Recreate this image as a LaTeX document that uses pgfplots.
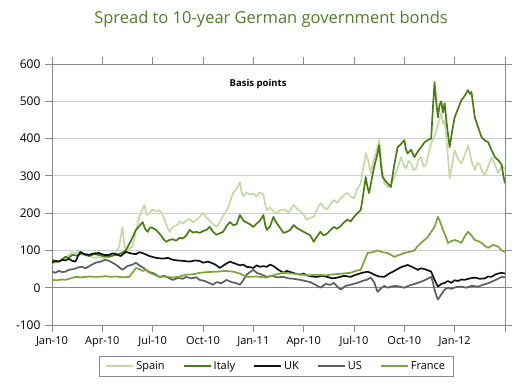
\documentclass[border=0pt]{standalone}
\usepackage{pgfplots}
\pgfplotsset{compat=1.18}
\usepackage{fontspec}
\setmainfont{Open Sans}
\definecolor{spainc}{HTML}{C6D8A6}
\definecolor{italyc}{HTML}{4A7D12}
\definecolor{ukc}{HTML}{111111}
\definecolor{usc}{HTML}{5E5E5E}
\definecolor{francec}{HTML}{7BA53A}
\definecolor{titlec}{HTML}{4F7F22}
\definecolor{gridc}{HTML}{CFCFCF}
\definecolor{framec}{HTML}{8A8A8A}
\begin{document}
\begin{tikzpicture}[x=1pt,y=1pt]
\begin{axis}[
  at={(52pt,60pt)}, anchor=south west,
  scale only axis, width=453pt, height=261pt,
  xmin=0, xmax=27, ymin=-100, ymax=600,
  xtick={0,3,...,27},
  xticklabels={Jan-10,Apr-10,Jul-10,Oct-10,Jan-11,Apr-10,Jul-10,Oct-10,Jan-12,},
  ytick={-100,0,...,600},
  tick align=outside, major tick length=7pt,
  tick style={framec, line width=0.8pt},
  axis line style={framec, line width=0.8pt},
  ymajorgrids, grid style={gridc, line width=0.9pt},
  extra y ticks={0}, extra y tick labels={},
  extra y tick style={grid style={framec, line width=1pt}, major tick length=0pt},
  x tick label style={font=\fontsize{11}{13}\selectfont, yshift=-1pt},
  y tick label style={font=\fontsize{12}{14}\selectfont, xshift=-1pt},
  /pgf/number format/assume math mode=true,
  clip=true,
  legend columns=5,
  legend style={at={(0.495,-0.158)}, anchor=center, draw=framec, line width=0.8pt,
    font=\fontsize{11}{13}\selectfont, inner xsep=6pt, inner ysep=3pt,
    /tikz/every even column/.append style={column sep=16pt}},
  legend image code/.code={\draw[#1, line width=2pt] (0pt,0pt) -- (27pt,0pt);},
  every axis plot/.append style={line width=1.7pt, line join=round},
]
\addplot[spainc] coordinates {
(0,62)(0.2,66)(0.4,70)(0.6,75)(0.8,80)(1.0,88)(1.2,95)(1.4,92)(1.6,100)(1.8,90)(1.9,88)(2.1,92)(2.2,85)(2.5,80)(2.8,82)(3.1,78)(3.4,88)(3.6,84)(3.8,95)(4.0,110)(4.2,163)(4.3,120)(4.4,95)(4.6,105)(4.8,110)(5.0,150)(5.2,190)(5.35,205)(5.5,222)(5.65,195)(5.8,200)(6.0,210)(6.2,205)(6.4,208)(6.6,195)(6.8,170)(7.0,150)(7.15,160)(7.3,165)(7.5,170)(7.6,178)(7.8,172)(8.0,180)(8.2,185)(8.4,175)(8.6,182)(8.8,190)(9.0,200)(9.2,188)(9.4,180)(9.6,170)(9.8,163)(10.0,175)(10.1,185)(10.3,200)(10.5,215)(10.6,230)(10.8,255)(11.0,265)(11.2,283)(11.3,255)(11.4,245)(11.6,255)(11.8,250)(12.0,252)(12.2,245)(12.4,255)(12.6,250)(12.7,225)(12.8,208)(13.0,215)(13.2,205)(13.4,200)(13.6,208)(13.9,210)(14.1,200)(14.4,222)(14.6,212)(14.8,205)(15.0,195)(15.2,182)(15.4,188)(15.6,190)(15.8,210)(16.0,227)(16.2,215)(16.4,210)(16.6,225)(16.8,235)(17.0,228)(17.2,240)(17.4,248)(17.6,254)(17.8,245)(18.0,240)(18.2,265)(18.4,280)(18.5,310)(18.6,330)(18.7,361)(18.85,340)(19.0,307)(19.15,340)(19.3,360)(19.5,396)(19.65,330)(19.8,280)(20.0,270)(20.2,278)(20.4,297)(20.6,320)(20.8,350)(20.95,330)(21.1,320)(21.25,340)(21.4,334)(21.55,315)(21.7,320)(21.85,345)(22.0,350)(22.15,325)(22.3,330)(22.45,360)(22.6,388)(22.75,400)(22.9,420)(23.05,445)(23.2,468)(23.3,440)(23.4,449)(23.55,380)(23.7,294)(23.85,330)(24.0,369)(24.2,345)(24.4,334)(24.6,355)(24.8,382)(25.0,340)(25.2,315)(25.35,335)(25.5,330)(25.65,310)(25.8,302)(26.0,325)(26.2,350)(26.4,330)(26.6,307)(26.8,325)(27.0,320)
};
\addlegendentry{Spain}
\addplot[italyc] coordinates {
(0,75)(0.3,70)(0.5,72)(0.8,83)(1.0,80)(1.2,88)(1.5,86)(1.8,93)(2.0,88)(2.2,85)(2.5,90)(2.8,88)(3.1,84)(3.4,83)(3.6,86)(3.8,88)(4.1,92)(4.4,100)(4.7,125)(5.0,155)(5.2,165)(5.4,176)(5.55,158)(5.7,150)(5.85,162)(6.0,160)(6.2,155)(6.35,148)(6.5,140)(6.65,130)(6.8,123)(7.0,128)(7.2,130)(7.4,126)(7.6,134)(7.8,132)(8.0,140)(8.2,155)(8.4,148)(8.6,150)(8.8,147)(9.0,152)(9.2,155)(9.4,163)(9.6,150)(9.8,142)(10.0,146)(10.2,150)(10.4,165)(10.6,176)(10.8,168)(11.0,170)(11.2,195)(11.4,180)(11.6,175)(11.8,170)(12.0,163)(12.2,172)(12.4,180)(12.6,195)(12.7,170)(12.8,155)(13.0,165)(13.2,190)(13.3,180)(13.4,173)(13.6,160)(13.8,147)(14.0,150)(14.2,155)(14.4,168)(14.6,160)(14.8,155)(15.0,150)(15.2,145)(15.4,140)(15.6,123)(15.8,138)(16.0,150)(16.2,140)(16.4,145)(16.6,155)(16.8,163)(17.0,158)(17.2,165)(17.4,175)(17.6,182)(17.8,178)(18.0,190)(18.2,200)(18.4,208)(18.55,250)(18.7,297)(18.8,270)(18.9,254)(19.05,290)(19.2,324)(19.35,350)(19.5,382)(19.6,330)(19.7,297)(19.9,285)(20.2,270)(20.4,330)(20.6,377)(20.8,385)(21.0,396)(21.1,370)(21.2,360)(21.4,370)(21.6,350)(21.8,365)(22.0,377)(22.2,390)(22.4,396)(22.6,400)(22.7,480)(22.8,551)(22.9,500)(23.0,457)(23.1,490)(23.2,500)(23.3,470)(23.4,495)(23.55,430)(23.7,377)(23.85,420)(24.0,457)(24.2,480)(24.4,503)(24.6,515)(24.8,530)(24.9,520)(25.0,525)(25.2,457)(25.4,430)(25.6,404)(25.8,395)(26.0,390)(26.2,369)(26.4,350)(26.6,342)(26.8,330)(26.9,300)(27.0,280)
};
\addlegendentry{Italy}
\addplot[ukc] coordinates {
(0,67)(0.2,72)(0.4,70)(0.6,75)(0.8,73)(1.0,78)(1.2,72)(1.4,70)(1.6,90)(1.7,96)(1.9,90)(2.2,88)(2.5,92)(2.8,93)(3.1,88)(3.4,88)(3.6,92)(3.8,90)(4.1,85)(4.4,96)(4.7,92)(5.0,90)(5.2,95)(5.4,93)(5.8,85)(6.2,80)(6.6,78)(6.9,80)(7.2,75)(7.5,73)(7.8,72)(8.2,70)(8.5,73)(8.8,72)(9.0,67)(9.3,70)(9.6,65)(9.8,60)(10.0,53)(10.3,62)(10.6,70)(10.9,65)(11.2,60)(11.4,62)(11.6,56)(11.8,55)(12.0,53)(12.2,60)(12.4,56)(12.6,58)(12.8,56)(13.0,62)(13.2,58)(13.5,48)(13.8,40)(14.0,45)(14.2,42)(14.5,38)(14.8,35)(15.0,38)(15.2,33)(15.5,30)(15.8,29)(16.1,32)(16.4,29)(16.7,25)(17.0,27)(17.4,32)(17.8,29)(18.0,33)(18.2,36)(18.5,40)(18.8,43)(19.0,40)(19.2,35)(19.5,30)(19.8,29)(20.1,38)(20.4,45)(20.6,50)(20.8,55)(21.0,58)(21.2,61)(21.5,55)(21.8,48)(22.0,52)(22.2,50)(22.5,45)(22.6,43)(22.8,21)(23.0,3)(23.2,10)(23.4,13)(23.6,18)(23.8,13)(24.0,20)(24.2,18)(24.4,22)(24.6,21)(24.9,25)(25.2,27)(25.5,24)(25.8,25)(26.0,30)(26.2,29)(26.4,35)(26.6,38)(26.8,40)(27.0,38)
};
\addlegendentry{UK}
\addplot[usc] coordinates {
(0,43)(0.2,40)(0.4,45)(0.6,42)(0.8,43)(1.0,48)(1.3,50)(1.6,55)(1.8,56)(2.0,52)(2.3,60)(2.6,67)(2.9,70)(3.2,75)(3.4,72)(3.6,67)(3.8,62)(4.0,55)(4.2,48)(4.5,58)(4.8,62)(5.0,67)(5.2,60)(5.4,55)(5.6,48)(5.8,42)(6.1,38)(6.4,29)(6.7,32)(7.0,25)(7.2,21)(7.5,26)(7.8,24)(8.0,29)(8.3,25)(8.6,28)(8.8,21)(9.1,18)(9.4,12)(9.6,8)(9.8,15)(10.1,12)(10.4,21)(10.7,15)(11.0,12)(11.2,8)(11.4,20)(11.6,35)(11.8,42)(12.0,48)(12.2,40)(12.5,35)(12.8,29)(13.1,32)(13.4,28)(13.8,29)(14.1,25)(14.4,24)(14.8,21)(15.1,18)(15.4,15)(15.7,8)(16.0,0)(16.3,10)(16.6,8)(16.8,13)(17.0,3)(17.2,-5)(17.5,5)(17.8,8)(18.2,13)(18.5,18)(18.8,22)(19.0,27)(19.2,15)(19.4,-11)(19.6,-2)(19.8,5)(20.0,0)(20.2,3)(20.5,5)(20.8,2)(21.0,0)(21.3,6)(21.6,10)(22.0,16)(22.3,22)(22.6,29)(22.7,15)(22.8,-5)(22.9,-20)(23.0,-32)(23.2,-18)(23.4,-5)(23.6,0)(23.8,-3)(24.1,2)(24.4,3)(24.7,0)(25.0,5)(25.4,3)(25.7,8)(26.0,12)(26.2,16)(26.5,22)(26.8,29)(27.0,28)
};
\addlegendentry{US}
\addplot[francec] coordinates {
(0,21)(0.3,20)(0.6,22)(0.8,21)(1.1,25)(1.4,29)(1.8,28)(2.2,30)(2.5,29)(2.8,29)(3.2,31)(3.5,29)(3.8,30)(4.2,28)(4.6,29)(4.8,40)(5.0,53)(5.2,50)(5.4,45)(5.6,48)(5.8,40)(6.1,35)(6.4,29)(6.8,30)(7.2,27)(7.6,30)(8.0,35)(8.4,36)(8.8,40)(9.3,42)(9.8,43)(10.3,45)(10.8,43)(11.2,38)(11.6,29)(12.2,30)(12.8,27)(13.3,35)(13.8,40)(14.3,38)(14.8,36)(15.3,33)(15.8,35)(16.3,33)(16.8,36)(17.3,38)(17.8,40)(18.1,45)(18.4,48)(18.6,70)(18.8,93)(19.1,95)(19.4,100)(19.7,95)(20.0,93)(20.2,88)(20.4,83)(20.7,88)(21.0,93)(21.3,96)(21.6,100)(21.8,112)(22.0,120)(22.2,128)(22.4,136)(22.6,150)(22.8,163)(23.0,190)(23.15,175)(23.3,155)(23.45,140)(23.6,120)(23.8,125)(24.0,128)(24.2,125)(24.4,120)(24.6,138)(24.8,150)(25.0,140)(25.2,128)(25.4,125)(25.6,120)(25.8,112)(26.0,107)(26.3,115)(26.6,110)(26.8,100)(27.0,96)
};
\addlegendentry{France}
\node[font=\bfseries\fontsize{9.5}{11}\selectfont] at (rel axis cs:0.455,0.925) {Basis points};
\end{axis}
\node[text=titlec, font=\fontsize{16.5}{19}\selectfont] at (271pt,366pt) {Spread to 10-year German government bonds};
\pgfresetboundingbox
\path (0,0) rectangle (530pt,385pt);
\end{tikzpicture}
\end{document}
